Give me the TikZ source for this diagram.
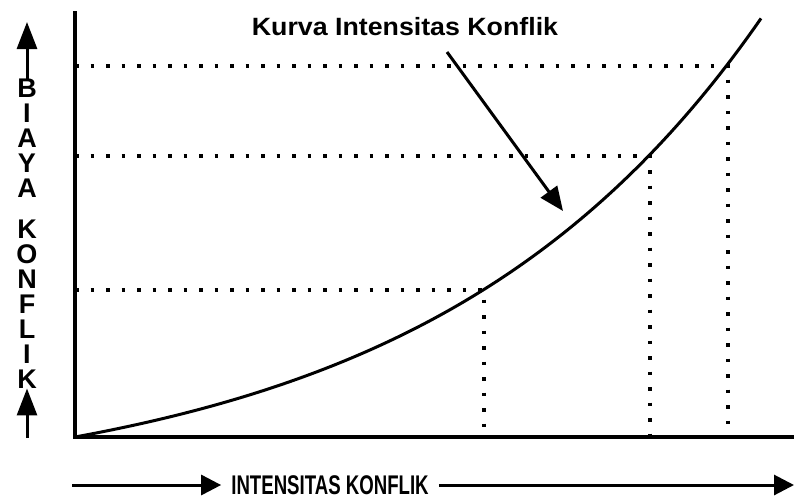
\documentclass[tikz,border=0pt]{standalone}
\usepackage{fontspec}
\setmainfont{Liberation Sans}
\usetikzlibrary{arrows.meta}
\begin{document}
\begin{tikzpicture}[x=1pt,y=-1pt]
		\tikzstyle{axis}=[line width=4pt]
		\tikzstyle{guide}=[line width=3.5pt,dash pattern=on 3.5pt off 12pt]
		\tikzstyle{pointer}=[line width=3pt,-{Triangle[length=24pt,width=20pt]}]
		\tikzstyle{uparrow}=[line width=3pt,-{Triangle[length=27pt,width=20pt]}]
		\tikzstyle{sidearrow}=[line width=3pt,-{Triangle[length=20pt,width=20pt]}]
		\tikzstyle{caption}=[inner sep=0pt,font=\bfseries\fontsize{27}{25}\selectfont,align=center]
		\useasboundingbox (0,0) rectangle (794,499);
		% axes and curve
		\coordinate (o) at (75,437);
		\coordinate (y_end) at (75,11);
		\coordinate (x_end) at (794,437);
		\draw[axis] (y_end) -- (o) -- (x_end);
		\draw[line width=3pt] plot[domain=75:761,samples=100] (\x,{437-61*(exp(0.003*(\x-75))-1)});
		\coordinate (p_1) at (484,290);
		\coordinate (p_2) at (650,156);
		\coordinate (p_3) at (728,66);
		\draw[guide] (p_1 -| o) -- (p_1) -- (p_1 |- o);
		\draw[guide] (p_2 -| o) -- (p_2) -- (p_2 |- o);
		\draw[guide] (p_3 -| o) -- (p_3) -- (p_3 |- o);
		% curve label
		\node[font=\bfseries\fontsize{25}{30}\selectfont] (curve_lbl) at (405,27) {\scalebox{1.07}[1]{Kurva Intensitas Konflik}};
		\coordinate (ptr_tail) at (447,52);
		\coordinate (ptr_tip) at (563,211);
		\draw[pointer] (ptr_tail) -- (ptr_tip);
		% axis titles
		\node[caption] (y_lbl_1) at (27,138) {B\\I\\A\\Y\\A};
		\node[caption] (y_lbl_2) at (27,304) {K\\O\\N\\F\\L\\I\\K};
		\coordinate (y_top) at (27,22);
		\coordinate (y_base) at (27,438);
		\draw[uparrow] (y_lbl_1.north) -- (y_top);
		\draw[uparrow] (y_base) -- (y_lbl_2.south);
		\node[caption,inner xsep=10pt] (x_lbl) at (330,485) {\scalebox{0.69}[1]{INTENSITAS KONFLIK}};
		\coordinate (x_start) at (72,485);
		\coordinate (x_stop) at (794,485);
		\draw[sidearrow] (x_start) -- (x_lbl.west);
		\draw[sidearrow] (x_lbl.east) -- (x_stop);
	\end{tikzpicture}
\end{document}
